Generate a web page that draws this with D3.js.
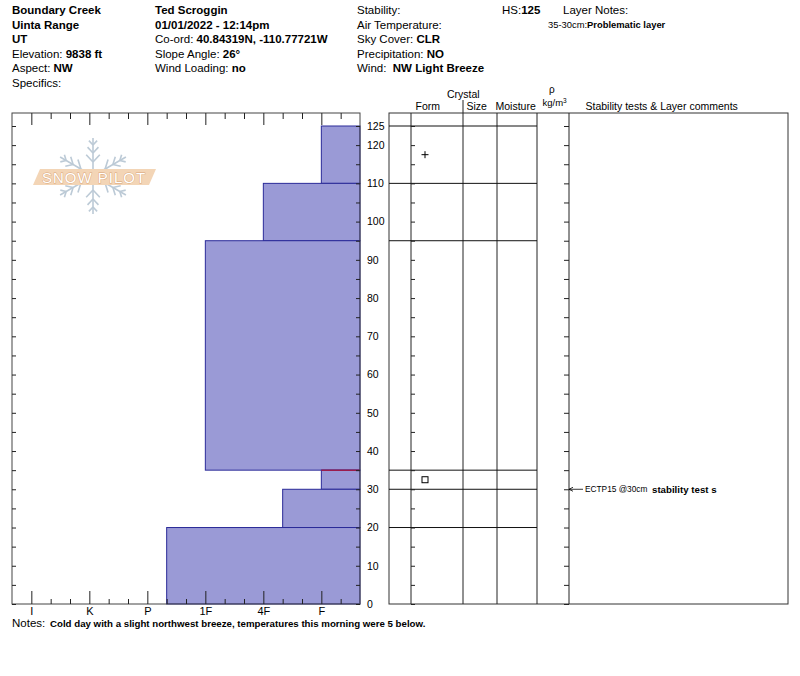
<!DOCTYPE html>
<html>
<head>
<meta charset="utf-8">
<script src="https://cdn.jsdelivr.net/npm/d3@7"></script>
<style>
  body { margin: 0; background: #fff; }
  svg { font-family: "Liberation Sans", Arial, sans-serif; }
</style>
</head>
<body>
<div id="chart"></div>
<script>
// snow layers, heights in cm above ground
const layerTop = [125, 110, 95, 35, 30, 20];
const layerBottom = [110, 95, 35, 30, 20, 0];
const layerHardness = ["F", "4F", "1F", "F", "4F-", "P-"];
const layerForm = ["PP", "", "", "FC", "", ""];
const problemLayer = [35];

// hand hardness scale, hardest on the left
const hardnessCodes = ["I+", "I", "I-", "K+", "K", "K-", "P+", "P", "P-",
  "1F+", "1F", "1F-", "4F+", "4F", "4F-", "F+", "F", "F-"];
const hardnessLabels = ["I", "K", "P", "1F", "4F", "F"];
const heightLabels = [0, 10, 20, 30, 40, 50, 60, 70, 80, 90, 100, 110, 120, 125];

// stability tests
const testHeight = [30];
const testCode = ["ECTP15 @30cm"];
const testComment = ["stability test s"];

// header text: [plain, bold]
const headerCol1 = [["", "Boundary Creek"], ["", "Uinta Range"], ["", "UT"],
  ["Elevation: ", "9838 ft"], ["Aspect: ", "NW"], ["Specifics:", ""]];
const headerCol2 = [["", "Ted Scroggin"], ["", "01/01/2022 - 12:14pm"],
  ["Co-ord: ", "40.84319N, -110.77721W"], ["Slope Angle: ", "26°"], ["Wind Loading: ", "no"]];
const headerCol3 = [["Stability:", ""], ["Air Temperature:", ""], ["Sky Cover: ", "CLR"],
  ["Precipitation: ", "NO"], ["Wind:\u00a0\u00a0", "NW Light Breeze"]];
const notesText = "Cold day with a slight northwest breeze, temperatures this morning were 5 below.";

const W = 800, H = 676;
const svg = d3.select("#chart").append("svg").attr("width", W).attr("height", H);

// layout
const plotL = 12, plotR = 360, plotT = 113, plotB = 604;
const tabL = 389, tabR = 788;
const colX = [411, 463, 497, 537, 569];

const y = d3.scaleLinear().domain([0, 125]).range([plotB, 126]);
const x = d3.scaleLinear().domain([0, hardnessCodes.length]).range([plotL, plotR]);
const ticks5 = d3.range(0, 130, 5);

//header
function headerColumn(rows, x0, size) {
  rows.forEach((r, i) => {
    const t = svg.append("text").attr("x", x0).attr("y", 14 + i * 14.6)
      .attr("font-size", size).attr("fill", "#000");
    if (r[0]) t.append("tspan").text(r[0]);
    if (r[1]) t.append("tspan").attr("font-weight", "bold").text(r[1]);
  });
}
headerColumn(headerCol1, 12, 11.5);
headerColumn(headerCol2, 155, 11.5);
headerColumn(headerCol3, 357, 11.5);

svg.append("text").attr("x", 502).attr("y", 14).attr("font-size", 11.5)
  .call(t => { t.append("tspan").text("HS:"); t.append("tspan").attr("font-weight", "bold").text(d3.max(layerTop)); });
svg.append("text").attr("x", 563).attr("y", 14).attr("font-size", 11.5).text("Layer Notes:");
svg.append("text").attr("x", 548).attr("y", 28).attr("font-size", 9.4)
  .call(t => {
    t.append("tspan").text("35-30cm:");
    t.append("tspan").attr("font-weight", "bold").text("Problematic layer");
  });

//snowpilot logo
const logo = svg.append("g").attr("transform", "translate(93,176)");
[90, 30, -30, -90, 150, 210].forEach((a) => {
  const r = a * Math.PI / 180;
  const ux = Math.cos(r), uy = -Math.sin(r);
  const arm = logo.append("g").attr("stroke", "#bccad6").attr("stroke-width", 1.6).attr("fill", "none");
  arm.append("line").attr("x1", ux * 6).attr("y1", uy * 6).attr("x2", ux * 38).attr("y2", uy * 38);
  [[14, 10], [23, 8], [31, 6]].forEach(([d, l]) => {
    [1, -1].forEach((s) => {
      const b = r + s * 0.75;
      arm.append("line")
        .attr("x1", ux * d).attr("y1", uy * d)
        .attr("x2", ux * d + Math.cos(b) * l).attr("y2", uy * d - Math.sin(b) * l);
    });
  });
});
svg.append("polygon").attr("points", "33,185 40,169 156,169 149,185").attr("fill", "#f3d5b6");
svg.append("text").attr("x", 94).attr("y", 182.5).attr("text-anchor", "middle")
  .attr("font-size", 15).attr("letter-spacing", 1).attr("fill", "#fff")
  .attr("stroke", "#d9a477").attr("stroke-width", 0.9).attr("paint-order", "stroke")
  .text("SNOW PILOT");

//hardness bars
const layers = layerTop.map((t, i) => ({ top: t, bottom: layerBottom[i], hard: layerHardness[i], form: layerForm[i] }));
svg.append("g").selectAll("rect").data(layers).join("rect")
  .attr("x", (d) => x(hardnessCodes.indexOf(d.hard)))
  .attr("y", (d) => y(d.top))
  .attr("width", (d) => plotR - x(hardnessCodes.indexOf(d.hard)))
  .attr("height", (d) => y(d.bottom) - y(d.top))
  .attr("fill", "#9a9ad6")
  .attr("stroke", "#2a2a98")
  .attr("stroke-width", 1);

//problematic layer line
problemLayer.forEach((h) => {
  const l = layers.find((d) => d.top === h);
  svg.append("line").attr("x1", x(hardnessCodes.indexOf(l.hard))).attr("x2", plotR)
    .attr("y1", y(h)).attr("y2", y(h)).attr("stroke", "#9b1c4c").attr("stroke-width", 1.5);
});

//plot frame
svg.append("rect").attr("x", plotL).attr("y", plotT).attr("width", plotR - plotL)
  .attr("height", plotB - plotT).attr("fill", "none").attr("stroke", "#444");

const majorIdx = hardnessLabels.map((l) => hardnessCodes.indexOf(l));
const minorIdx = d3.range(1, hardnessCodes.length).filter((i) => !majorIdx.includes(i));

function styleAxis(g) {
  g.select(".domain").remove();
  g.selectAll(".tick line").attr("stroke", "#222");
  g.selectAll("text").attr("font-family", "Liberation Sans, Arial, sans-serif").attr("fill", "#000");
}

//bottom axis
svg.append("g").attr("transform", `translate(0,${plotB})`)
  .call(d3.axisBottom(x).tickValues(minorIdx).tickSize(-5).tickFormat(""))
  .call(styleAxis);
svg.append("g").attr("transform", `translate(0,${plotB})`)
  .call(d3.axisBottom(x).tickValues(majorIdx).tickSize(-13).tickPadding(3)
    .tickFormat((i) => hardnessCodes[i]))
  .call(styleAxis)
  .selectAll("text").attr("font-size", 11);

//top axis
svg.append("g").attr("transform", `translate(0,${plotT})`)
  .call(d3.axisTop(x).tickValues(minorIdx).tickSize(-6).tickFormat(""))
  .call(styleAxis);
svg.append("g").attr("transform", `translate(0,${plotT})`)
  .call(d3.axisTop(x).tickValues(majorIdx).tickSize(-12).tickFormat(""))
  .call(styleAxis);

//left and right axes
svg.append("g").attr("transform", `translate(${plotL},0)`)
  .call(d3.axisLeft(y).tickValues(ticks5).tickSize(-4).tickFormat(""))
  .call(styleAxis);
svg.append("g").attr("transform", `translate(${plotR},0)`)
  .call(d3.axisRight(y).tickValues(ticks5).tickSize(-4).tickFormat(""))
  .call(styleAxis);
svg.append("g").attr("transform", `translate(${plotR},0)`)
  .call(d3.axisRight(y).tickValues(heightLabels).tickSize(0).tickPadding(7).tickFormat(d3.format("d")))
  .call(styleAxis)
  .selectAll("text").attr("font-size", 10.5);

//layer table
const tab = svg.append("g");
tab.append("rect").attr("x", tabL).attr("y", plotT).attr("width", tabR - tabL)
  .attr("height", plotB - plotT).attr("fill", "none").attr("stroke", "#333");
colX.forEach((cx) => {
  tab.append("line").attr("x1", cx).attr("x2", cx).attr("y1", plotT).attr("y2", plotB).attr("stroke", "#222");
});
tab.append("line").attr("x1", colX[1]).attr("x2", colX[1]).attr("y1", 100).attr("y2", plotT).attr("stroke", "#222");

tab.append("g").selectAll("line").data(layerTop).join("line")
  .attr("x1", tabL).attr("x2", colX[3])
  .attr("y1", (d) => y(d)).attr("y2", (d) => y(d))
  .attr("stroke", "#111");

tab.append("g").attr("transform", `translate(${colX[0]},0)`)
  .call(d3.axisLeft(y).tickValues(ticks5).tickSize(-4).tickFormat(""))
  .call(styleAxis);
tab.append("g").attr("transform", `translate(${colX[4]},0)`)
  .call(d3.axisRight(y).tickValues(ticks5).tickSize(-5).tickFormat(""))
  .call(styleAxis);

//grain form symbols
layers.forEach((d) => {
  const cy = (y(d.top) + y(d.bottom)) / 2, cx = 425;
  if (d.form === "PP") {
    tab.append("path").attr("d", `M${cx - 3.5},${cy}H${cx + 3.5}M${cx},${cy - 3.5}V${cy + 3.5}`)
      .attr("stroke", "#000").attr("stroke-width", 1);
  } else if (d.form === "FC") {
    tab.append("rect").attr("x", cx - 3).attr("y", cy - 3).attr("width", 6).attr("height", 6)
      .attr("fill", "none").attr("stroke", "#000").attr("stroke-width", 1);
  }
});

//table headers
const hdr = [["Crystal", 447, 98, 10.5], ["Form", 415.5, 110, 10.5], ["Size", 466.5, 110, 10.5],
  ["Moisture", 495.5, 110, 10.5], ["Stability tests & Layer comments", 585.5, 110, 10.5]];
hdr.forEach(([t, hx, hy, fs]) => {
  tab.append("text").attr("x", hx).attr("y", hy).attr("font-size", fs).text(t);
});
tab.append("text").attr("x", 549).attr("y", 93).attr("font-size", 10).text("ρ");
tab.append("text").attr("x", 542.5).attr("y", 105.5).attr("font-size", 9.5)
  .call(t => { t.append("tspan").text("kg/m"); t.append("tspan").attr("font-size", 6.5).attr("dy", -3).text("3"); });

//stability tests
testHeight.forEach((h, i) => {
  const ty = y(h);
  tab.append("path").attr("d", `M${colX[4]},${ty}H${colX[4] + 14}M${colX[4] + 4},${ty - 2}L${colX[4]},${ty}L${colX[4] + 4},${ty + 2}`)
    .attr("stroke", "#000").attr("fill", "none").attr("stroke-width", 0.8);
  tab.append("text").attr("x", 585).attr("y", ty + 3).attr("font-size", 8.3).text(testCode[i]);
  tab.append("text").attr("x", 652).attr("y", ty + 3.5).attr("font-size", 9.7)
    .attr("font-weight", "bold").text(testComment[i]);
});

//notes
svg.append("text").attr("x", 12).attr("y", 627).attr("font-size", 11.5).text("Notes:");
svg.append("text").attr("x", 50).attr("y", 627).attr("font-size", 9.7).attr("font-weight", "bold").text(notesText);
</script>
</body>
</html>
